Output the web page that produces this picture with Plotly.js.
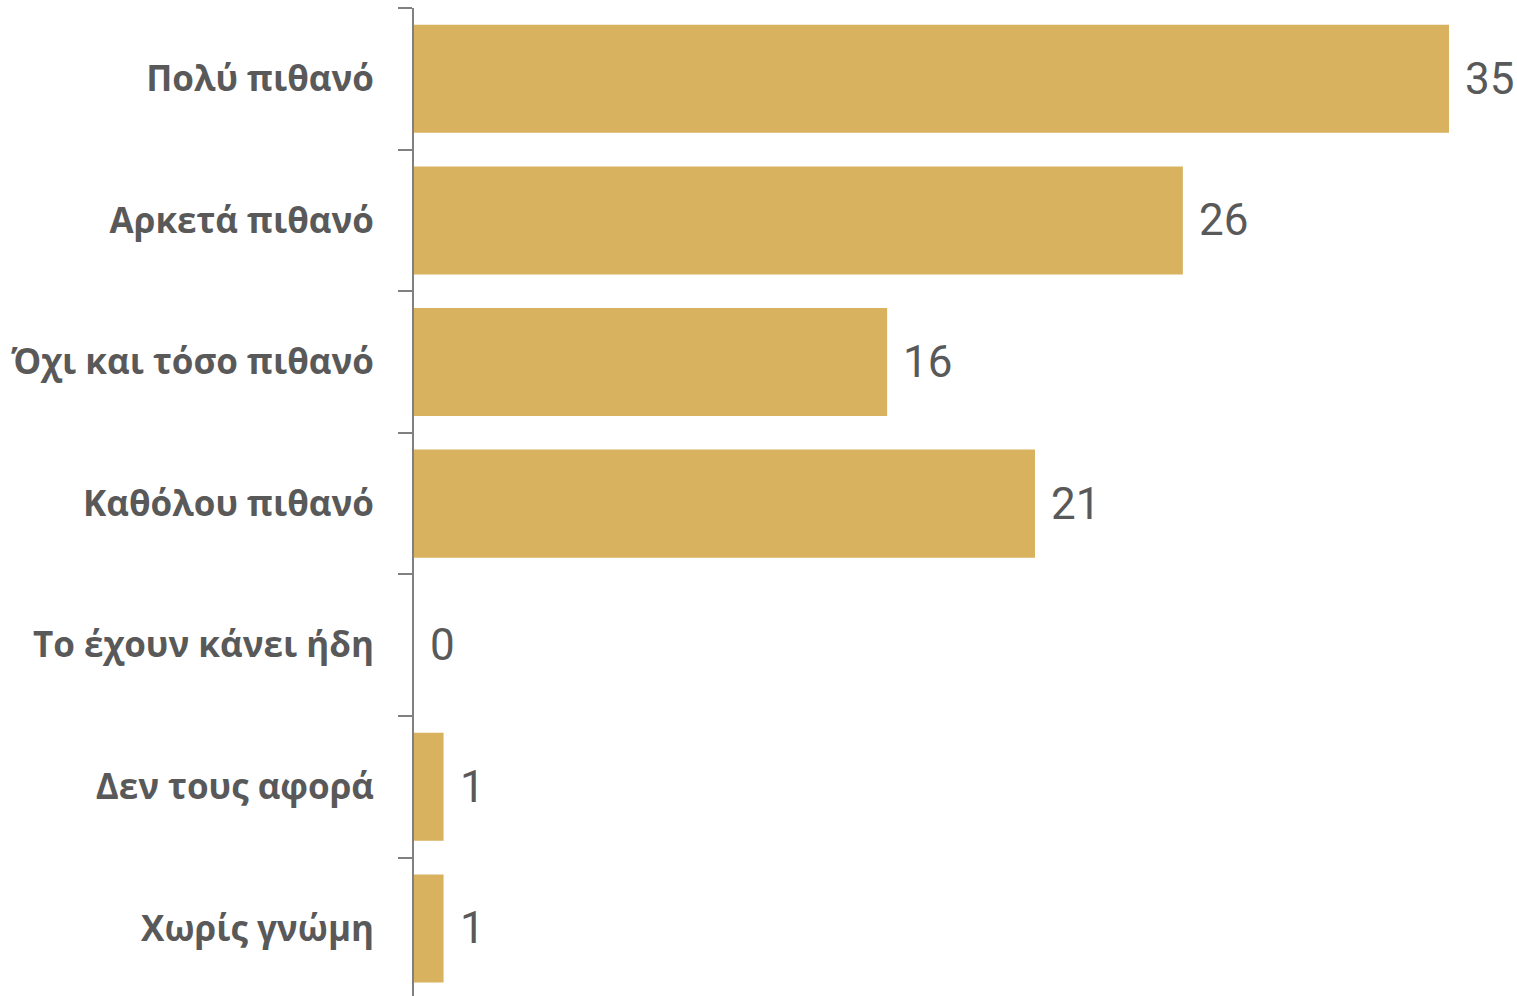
<!DOCTYPE html>
<html>
<head>
<meta charset="utf-8">
<script src="https://cdn.plot.ly/plotly-3.0.1.min.js"></script>
<style>
html, body { margin: 0; padding: 0; overflow: hidden; background: #fff; }
#chart { width: 1517px; height: 996px; }
</style>
</head>
<body>
<div id="chart"></div>
<script>
const categories = ["Πολύ πιθανό", "Αρκετά πιθανό", "Όχι και τόσο πιθανό", "Καθόλου πιθανό", "Το έχουν κάνει ήδη", "Δεν τους αφορά", "Χωρίς γνώμη"];
const values = [35, 26, 16, 21, 0, 1, 1];

const barColor = "#d8b25e";
const textColor = "#595959";

const trace = {
  type: "bar",
  orientation: "h",
  x: values,
  y: categories,
  marker: { color: barColor },
  hoverinfo: "none"
};

const annotations = values.map((v, i) => ({
  x: v,
  y: categories[i],
  xref: "x",
  yref: "y",
  text: String(v),
  showarrow: false,
  xanchor: "left",
  yanchor: "middle",
  xshift: 14,
  font: { family: "Roboto, sans-serif", size: 44, color: textColor }
}));

const layout = {
  width: 1517,
  height: 996,
  margin: { l: 414, r: 0, t: 8, b: 0 },
  paper_bgcolor: "#ffffff",
  plot_bgcolor: "#ffffff",
  bargap: 0.237,
  showlegend: false,
  xaxis: {
    range: [0, 37.3],
    visible: false,
    showgrid: false,
    zeroline: false
  },
  yaxis: {
    type: "category",
    range: [6.477, -0.5],
    showline: true,
    linecolor: "#808080",
    linewidth: 2,
    ticks: "outside",
    tickson: "boundaries",
    ticklen: 14,
    tickwidth: 2,
    tickcolor: "#808080",
    ticklabelstandoff: 31,
    showgrid: false,
    zeroline: false,
    tickfont: { family: "'Open Sans', sans-serif", size: 35, color: textColor, weight: "bold" }
  },
  annotations: annotations
};

Plotly.newPlot("chart", [trace], layout, { displayModeBar: false, staticPlot: true });
</script>
</body>
</html>
